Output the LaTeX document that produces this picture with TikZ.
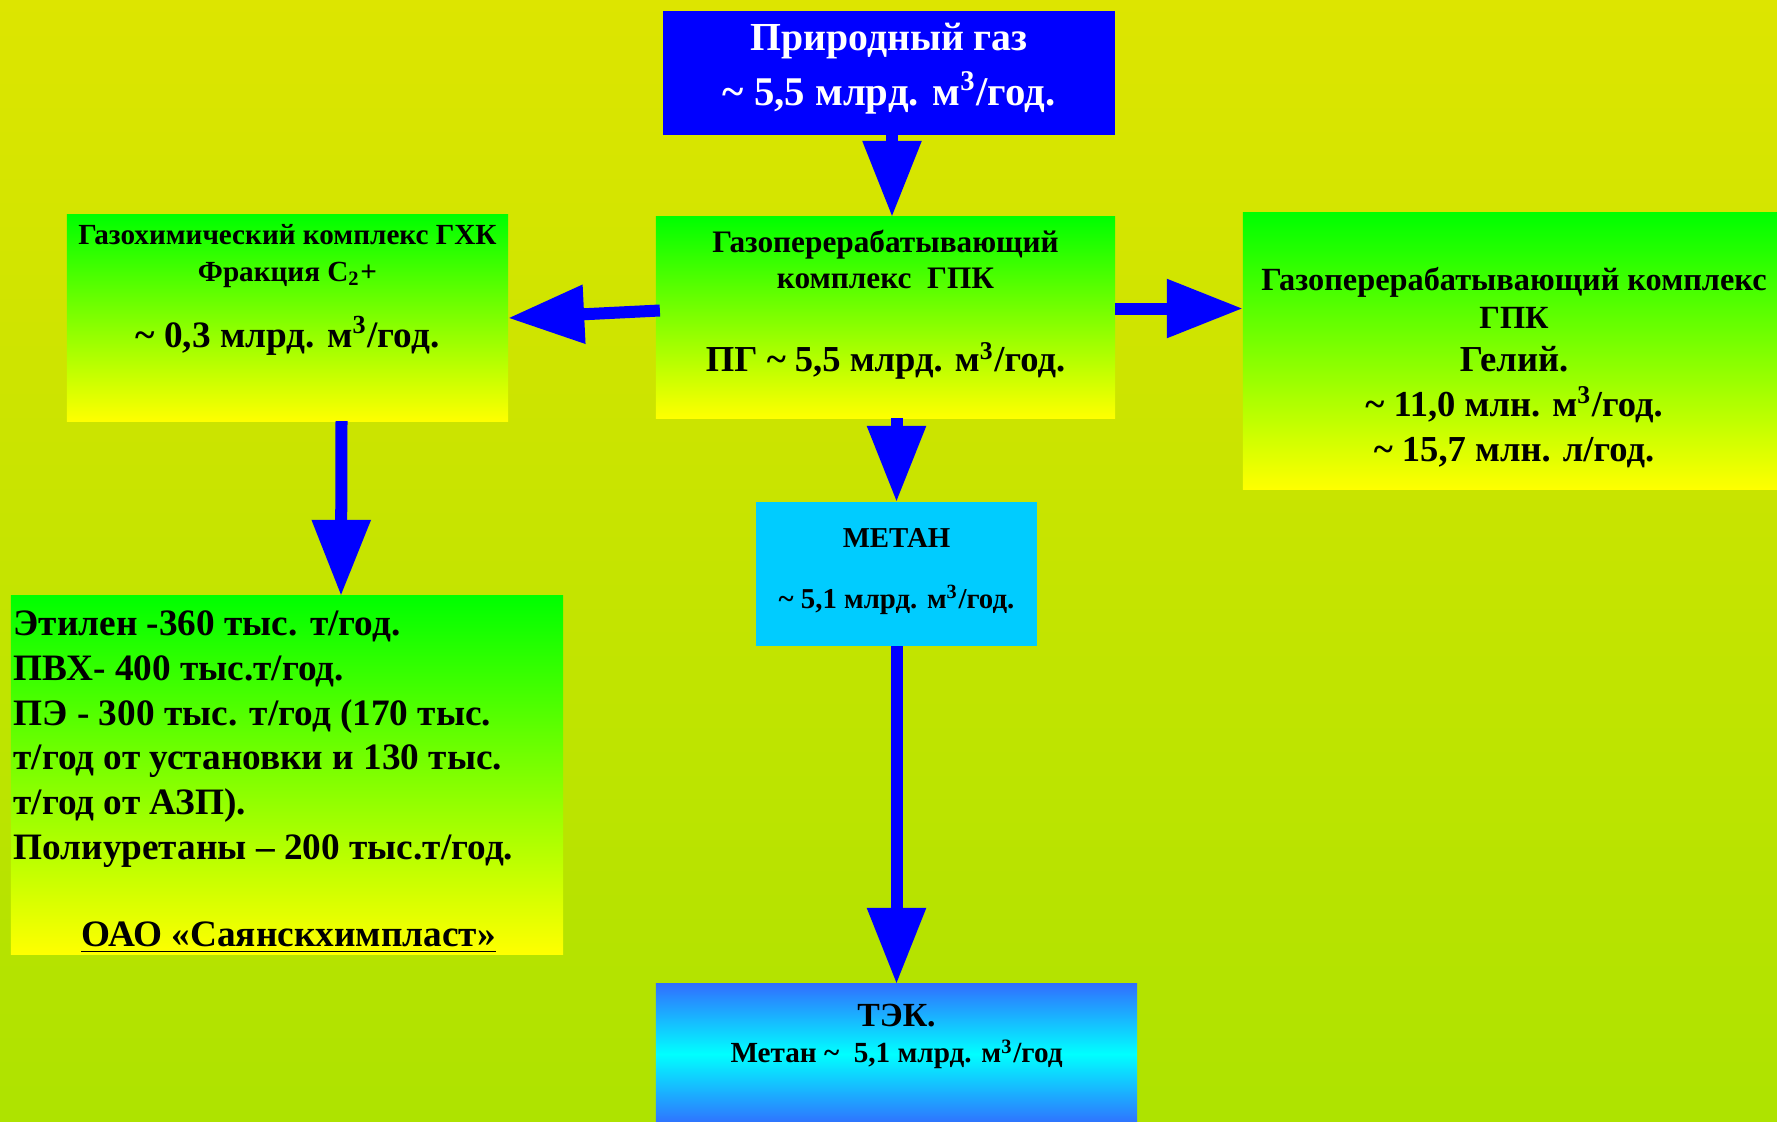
\documentclass[tikz,border=0pt]{standalone}
\usepackage{fontspec}
\setmainfont{Liberation Serif}
\usetikzlibrary{arrows.meta, calc, positioning}
\definecolor{bgtop}{RGB}{221,229,0}
\definecolor{bgbot}{RGB}{174,227,0}
\definecolor{flowblue}{RGB}{0,0,255}
\definecolor{boxgreen}{RGB}{0,255,0}
\definecolor{boxyellow}{RGB}{255,255,0}
\definecolor{metancyan}{RGB}{0,204,255}
\definecolor{tekblue}{RGB}{48,112,255}
\definecolor{tekcyan}{RGB}{0,255,255}
\newcommand{\apx}{\textasciitilde}
\newcommand{\mcub}{м\textsuperscript{3}}

\begin{document}
\begin{tikzpicture}[x=0.01cm, y=-0.01cm,
  box/.style={inner sep=0pt, outer sep=0pt},
  grad/.style={box, top color=boxgreen, bottom color=boxyellow},
  txt/.style={inner sep=0pt, align=center},
  flow/.style={color=flowblue, line width=1.2mm, -{Triangle[length=7.6mm, width=5.6mm]}}]
% background
\shade[top color=bgtop, bottom color=bgbot] (0,0) rectangle (1777,1121);
\useasboundingbox (0,0) rectangle (1777,1121);
%
\node[box, fill=flowblue, minimum width=45.2mm, minimum height=12.4mm] (gas) at (889,73) {};
\node[grad, minimum width=45.9mm, minimum height=20.1mm] (gpk) at (885.5,317.5) {};
\node[grad, minimum width=44.1mm, minimum height=20.6mm] (gxk) at (287.5,318) {};
\node[grad, minimum width=54.2mm, minimum height=27.6mm] (helium) at (1514,351) {};
\node[box, fill=metancyan, minimum width=28.1mm, minimum height=14.4mm] (metan) at (896.5,574) {};
\node[box, top color=tekblue, bottom color=tekblue, middle color=tekcyan, minimum width=48.1mm, minimum height=14mm] (tek) at (896.5,1054) {};
\node[grad, minimum width=55.2mm, minimum height=35.8mm] (prod) at (287,775) {};
%
\node[txt, anchor=north, text=white, font=\fontsize{11.3}{15.75}\selectfont\bfseries] at ($(gas.north)+(0,11)$)
  {Природный газ\\{\fontsize{11.6}{15.75}\selectfont\apx{} 5,5 млрд. \mcub/год.}};
\node[txt, anchor=north, font=\fontsize{8.9}{10.5}\selectfont\bfseries] at ($(gpk.north)+(0,12)$)
  {Газоперерабатывающий\\комплекс\ \ ГПК\\[13.1pt]{\fontsize{10.4}{10.5}\selectfont ПГ \apx{} 5,5 млрд. \mcub/год.}};
\node[txt, anchor=north, font=\fontsize{8.3}{10.5}\selectfont\bfseries] at ($(gxk.north)+(0,9)$)
  {Газохимический комплекс ГХК\\Фракция С\textsubscript{2}+\\[7.2pt]{\fontsize{10.6}{10.5}\selectfont\apx{} 0,3 млрд. \mcub/год.}};
\node[txt, anchor=north, font=\fontsize{9.2}{10.8}\selectfont\bfseries] at ($(helium.north)+(0,54)$)
  {Газоперерабатывающий комплекс\\ГПК\\[1.4pt]{\fontsize{10.4}{10.8}\selectfont Гелий.}\\[2pt]{\fontsize{10.4}{10.8}\selectfont\apx{} 11,0 млн. \mcub/год.}\\[2pt]{\fontsize{10.4}{10.8}\selectfont\apx{} 15,7 млн. л/год.}};
\node[txt, anchor=north, font=\fontsize{8.2}{17.4}\selectfont\bfseries] at ($(metan.north)+(0,26)$)
  {МЕТАН\\\apx{} 5,1 млрд. \mcub/год.};
\node[txt, anchor=north, font=\fontsize{8.3}{10.5}\selectfont\bfseries] at ($(tek.north)+(0,19)$)
  {{\fontsize{9.6}{10.5}\selectfont ТЭК.}\\Метан \apx\ \ 5,1 млрд. \mcub/год};
\node[txt, align=left, anchor=north west, font=\fontsize{10.6}{12.75}\selectfont\bfseries] at ($(prod.north west)+(2,14)$)
  {Этилен -360 тыс. т/год.\\ПВХ- 400 тыс.т/год.\\ПЭ - 300 тыс. т/год (170 тыс.\\т/год от установки и 130 тыс.\\т/год от АЗП).\\Полиуретаны – 200 тыс.т/год.};
\node[txt, anchor=base, font=\fontsize{10.6}{12.75}\selectfont\bfseries] at ($(prod.south)+(1.5,-8)$)
  {\underline{ОАО «Саянскхимпласт»}};
% arrows
\draw[flow] ($(gas.south)+(3,0)$) -- ($(gas.south |- gpk.north)+(3,0)$);
\draw[flow] ($(gpk.west)+(4,-7)$) -- (gxk.east);
\coordinate (rtail) at ($(gpk.east)+(0,-9)$);
\draw[flow] (rtail) -- (rtail -| helium.west);
\draw[flow] (gpk.south -| metan) -- (metan.north);
\draw[flow] (metan.south) -- (tek.north);
\draw[flow] ($(gxk.south)+(54,0)$) -- ($(prod.north)+(54,0)$);
\end{tikzpicture}
\end{document}
